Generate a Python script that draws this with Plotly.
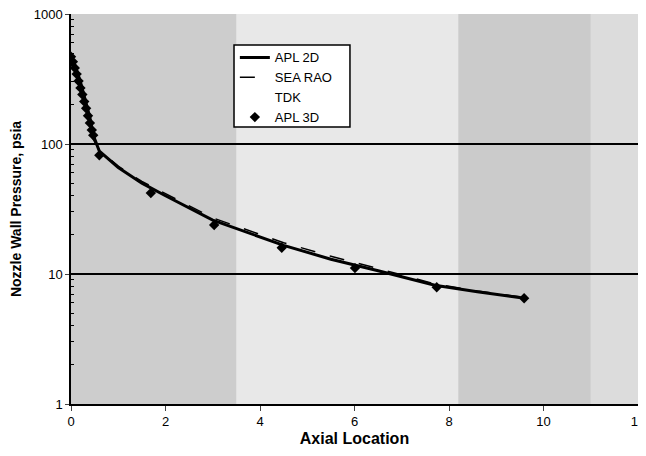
import plotly.graph_objects as go

# APL 3D (diamond markers)
apl3d_x = [0.0, 0.04, 0.08, 0.12, 0.16, 0.20, 0.24, 0.28, 0.32, 0.36, 0.40, 0.44, 0.47, 0.60, 1.69, 3.03, 4.46, 6.01, 7.74, 9.59]
apl3d_p = [470, 430, 385, 345, 305, 270, 240, 212, 188, 165, 145, 128, 117, 82, 42, 23.8, 15.9, 11.1, 7.9, 6.5]

# APL 2D (solid line)
apl2d_x = [0.0, 0.1, 0.2, 0.3, 0.4, 0.47, 0.6, 1.0, 1.5, 2.0, 3.0, 4.5, 5.5, 6.5, 7.7, 8.6, 9.6]
apl2d_p = [480, 390, 300, 220, 160, 117, 88, 66, 50, 40, 26, 16.6, 13.0, 10.6, 8.2, 7.3, 6.5]

# SEA RAO (dashed line)
searao_x = [0.45, 0.6, 1.0, 1.5, 2.0, 3.0, 4.5, 5.5, 6.5, 7.7, 8.6, 9.6]
searao_p = [112, 90, 67.5, 51.5, 41.5, 27.0, 17.4, 13.7, 11.0, 8.4, 7.4, 6.6]

# TDK (not visible in the chart)
tdk_x = [0.5, 9.6]
tdk_p = [100, 6.6]

x_ticks = [0, 2, 4, 6, 8, 10, 12]
y_ticks = [1, 10, 100, 1000]
y_tick_labels = ["1", "10", "100", "1000"]
y_minor = [m * d for d in (1, 10, 100) for m in range(2, 10)]

fig = go.Figure()
fig.add_trace(go.Scatter(x=apl2d_x, y=apl2d_p, mode="lines", name="APL 2D",
                         line=dict(color="black", width=3)))
fig.add_trace(go.Scatter(x=searao_x, y=searao_p, mode="lines", name="SEA RAO",
                         line=dict(color="black", width=1.5, dash="longdash")))
fig.add_trace(go.Scatter(x=tdk_x, y=tdk_p, mode="lines", name="TDK",
                         line=dict(color="rgba(0,0,0,0)", width=1)))
fig.add_trace(go.Scatter(x=apl3d_x, y=apl3d_p, mode="markers", name="APL 3D",
                         marker=dict(symbol="diamond", color="black", size=8)))

# scanned-paper background bands
bands = [(0, 3.5, "#cdcdcd"), (3.5, 8.2, "#e8e8e8"), (8.2, 11, "#cbcbcb"), (11, 12, "#dcdcdc")]
for x0, x1, c in bands:
    fig.add_shape(type="rect", xref="x", yref="paper", x0=x0, x1=x1, y0=0, y1=1,
                  fillcolor=c, line_width=0, layer="below")
# legend frame
fig.add_shape(type="rect", xref="paper", yref="paper", x0=0.2875, x1=0.492, y0=0.710, y1=0.9205,
              fillcolor="white", line=dict(color="black", width=1.5), layer="below")

font = "Liberation Sans, Arial, sans-serif"
fig.update_layout(
    width=638, height=448,
    margin=dict(l=63, r=8, t=6, b=52, autoexpand=False),
    paper_bgcolor="white", plot_bgcolor="#dadada",
    font=dict(family=font, size=13, color="black"),
    showlegend=True,
    legend=dict(x=0.289, y=0.927, xanchor="left", yanchor="top",
                bgcolor="rgba(0,0,0,0)", borderwidth=0,
                font=dict(size=13), tracegroupgap=0, itemwidth=30),
    xaxis=dict(range=[0, 12], tickvals=x_ticks, ticks="outside", ticklen=5,
               showgrid=False, zeroline=False, showline=True, linecolor="black", linewidth=1.5,
               ticklabeloverflow="allow", automargin=False,
               title=dict(text="<b>Axial Location</b>", font=dict(size=16), standoff=4)),
    yaxis=dict(type="log", range=[0, 3], tickvals=y_ticks, ticktext=y_tick_labels,
               ticks="outside", ticklen=4, showgrid=True, gridcolor="black", gridwidth=1.5,
               zeroline=False, showline=True, linecolor="black", linewidth=1.5,
               ticklabeloverflow="allow", automargin=False,
               minor=dict(tickvals=y_minor, ticks="inside", ticklen=3, tickcolor="black", showgrid=False),
               title=dict(text="<b>Nozzle Wall Pressure, psia</b>", font=dict(size=14), standoff=18)),
)
fig.write_html("out.html")
